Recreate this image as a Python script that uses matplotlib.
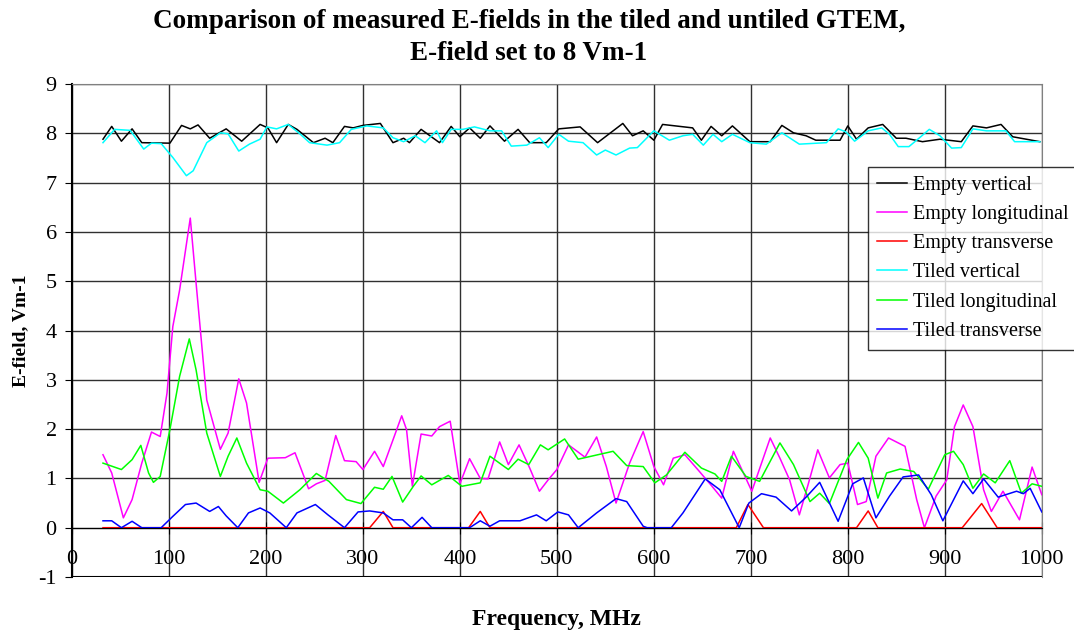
import numpy as np
import matplotlib
matplotlib.use('Agg')
import matplotlib.pyplot as plt

plt.rcParams['font.family'] = ['Liberation Serif', 'DejaVu Serif']
plt.rcParams['axes.unicode_minus'] = False

# ── Data (frequency MHz, E-field Vm-1) ────────────────────────────────────
empty_vertical = [
    (32, 7.88), (41, 8.14), (51, 7.84), (62, 8.09), (72, 7.81), (101, 7.80),
    (113, 8.16), (122, 8.09), (130, 8.17), (142, 7.90), (159, 8.09), (175, 7.84),
    (194, 8.18), (202, 8.11), (211, 7.81), (223, 8.18), (232, 8.08), (249, 7.81),
    (261, 7.90), (269, 7.81), (281, 8.14), (290, 8.11), (300, 8.16), (318, 8.20),
    (331, 7.81), (342, 7.90), (348, 7.81), (360, 8.08), (379, 7.81), (391, 8.14),
    (400, 7.93), (410, 8.11), (421, 7.90), (431, 8.15), (446, 7.84), (460, 8.08),
    (472, 7.81), (489, 7.81), (502, 8.09), (524, 8.13), (542, 7.81), (568, 8.20),
    (578, 7.95), (589, 8.05), (600, 7.86), (609, 8.18), (640, 8.11), (649, 7.86),
    (659, 8.14), (670, 7.95), (681, 8.15), (699, 7.83), (720, 7.83), (732, 8.16),
    (744, 8.01), (757, 7.95), (767, 7.86), (792, 7.86), (800, 8.15), (809, 7.88),
    (821, 8.11), (836, 8.18), (850, 7.90), (860, 7.90), (877, 7.83), (895, 7.88),
    (917, 7.83), (929, 8.15), (943, 8.11), (958, 8.18), (970, 7.93), (998, 7.83),
]
empty_longitudinal = [
    (32, 1.48), (41, 1.11), (53, 0.20), (62, 0.57), (72, 1.31), (82, 1.94),
    (91, 1.85), (98, 2.73), (104, 4.08), (111, 4.82), (122, 6.28), (128, 4.96),
    (139, 2.59), (153, 1.59), (161, 1.92), (172, 3.02), (180, 2.53), (193, 0.92),
    (202, 1.41), (220, 1.42), (230, 1.52), (244, 0.79), (252, 0.89), (261, 0.96),
    (272, 1.87), (281, 1.36), (293, 1.34), (300, 1.18), (312, 1.55), (321, 1.24),
    (331, 1.78), (340, 2.27), (345, 1.99), (351, 0.84), (360, 1.90), (371, 1.86),
    (379, 2.05), (390, 2.16), (400, 0.89), (410, 1.40), (421, 1.00), (429, 0.99),
    (441, 1.74), (450, 1.28), (461, 1.68), (472, 1.21), (482, 0.74), (491, 0.97),
    (500, 1.18), (512, 1.68), (529, 1.43), (541, 1.84), (551, 1.24), (561, 0.50),
    (575, 1.31), (589, 1.95), (600, 1.24), (610, 0.87), (620, 1.41), (632, 1.48),
    (647, 1.14), (660, 0.84), (670, 0.60), (682, 1.55), (690, 1.21), (701, 0.74),
    (720, 1.82), (730, 1.41), (740, 0.97), (750, 0.26), (759, 0.87), (769, 1.58),
    (781, 1.01), (792, 1.28), (800, 1.31), (810, 0.47), (819, 0.53), (829, 1.45),
    (842, 1.82), (859, 1.65), (871, 0.57), (879, 0.00), (891, 0.64), (902, 0.97),
    (910, 2.05), (919, 2.49), (929, 2.05), (940, 0.77), (948, 0.33), (960, 0.74),
    (977, 0.16), (990, 1.23), (1000, 0.67),
]
empty_transverse = [
    (32, 0.0), (307, 0.0), (321, 0.33), (331, 0.0), (409, 0.0), (421, 0.33),
    (431, 0.0), (685, 0.0), (697, 0.47), (713, 0.0), (809, 0.0), (821, 0.34),
    (831, 0.0), (918, 0.0), (938, 0.49), (954, 0.0), (1000, 0.0),
]
tiled_vertical = [
    (32, 7.81), (44, 8.08), (60, 8.06), (74, 7.68), (82, 7.80), (92, 7.79),
    (104, 7.51), (118, 7.14), (125, 7.24), (139, 7.81), (153, 8.01), (161, 7.99),
    (172, 7.64), (183, 7.78), (194, 7.88), (201, 8.13), (211, 8.09), (223, 8.18),
    (235, 7.99), (245, 7.81), (263, 7.76), (276, 7.81), (288, 8.08), (304, 8.15),
    (321, 8.11), (331, 7.91), (342, 7.83), (354, 7.95), (364, 7.81), (376, 8.05),
    (382, 7.81), (391, 8.08), (403, 8.08), (415, 8.13), (431, 8.05), (443, 8.05),
    (453, 7.74), (469, 7.76), (482, 7.91), (491, 7.71), (502, 7.98), (512, 7.84),
    (527, 7.81), (541, 7.56), (550, 7.66), (561, 7.56), (575, 7.70), (583, 7.71),
    (600, 8.05), (616, 7.86), (630, 7.95), (640, 7.98), (651, 7.76), (661, 7.98),
    (670, 7.83), (681, 7.98), (699, 7.81), (716, 7.78), (732, 8.01), (750, 7.78),
    (778, 7.81), (790, 8.09), (798, 8.03), (807, 7.84), (821, 8.05), (835, 8.11),
    (843, 7.98), (852, 7.73), (863, 7.73), (874, 7.91), (884, 8.08), (895, 7.95),
    (907, 7.70), (917, 7.71), (929, 8.09), (943, 8.05), (963, 8.05), (972, 7.83),
    (998, 7.83),
]
tiled_longitudinal = [
    (32, 1.31), (51, 1.18), (62, 1.38), (71, 1.67), (79, 1.11), (84, 0.92),
    (91, 1.04), (101, 1.99), (111, 3.07), (121, 3.83), (128, 3.20), (139, 1.92),
    (153, 1.04), (161, 1.45), (170, 1.82), (180, 1.31), (194, 0.77), (202, 0.74),
    (218, 0.50), (235, 0.77), (252, 1.10), (265, 0.94), (283, 0.57), (298, 0.49),
    (312, 0.82), (321, 0.78), (330, 1.04), (341, 0.52), (352, 0.84), (360, 1.05),
    (371, 0.87), (388, 1.06), (402, 0.84), (421, 0.91), (431, 1.45), (450, 1.18),
    (460, 1.39), (471, 1.28), (483, 1.68), (491, 1.58), (508, 1.80), (522, 1.39),
    (558, 1.55), (572, 1.26), (589, 1.24), (601, 0.91), (613, 1.07), (632, 1.53),
    (649, 1.21), (663, 1.09), (670, 0.94), (680, 1.45), (695, 1.04), (709, 0.94),
    (730, 1.72), (744, 1.28), (761, 0.53), (771, 0.70), (781, 0.49), (799, 1.38),
    (811, 1.73), (821, 1.41), (831, 0.60), (840, 1.11), (854, 1.19), (868, 1.14),
    (883, 0.78), (900, 1.48), (909, 1.55), (919, 1.28), (929, 0.80), (940, 1.09),
    (952, 0.91), (967, 1.36), (979, 0.70), (990, 0.89), (1000, 0.84),
]
tiled_transverse = [
    (32, 0.14), (41, 0.14), (51, 0.00), (62, 0.13), (72, 0.00), (92, 0.00),
    (104, 0.23), (117, 0.47), (128, 0.50), (142, 0.33), (151, 0.43), (159, 0.24),
    (171, 0.00), (182, 0.30), (194, 0.40), (204, 0.30), (221, 0.00), (232, 0.30),
    (251, 0.47), (264, 0.26), (281, 0.00), (295, 0.32), (307, 0.34), (321, 0.30),
    (331, 0.16), (341, 0.16), (350, 0.00), (361, 0.21), (371, 0.00), (410, 0.00),
    (421, 0.14), (431, 0.03), (441, 0.14), (462, 0.14), (479, 0.26), (489, 0.14),
    (501, 0.32), (512, 0.26), (522, 0.00), (541, 0.30), (561, 0.59), (572, 0.53),
    (589, 0.03), (593, 0.00), (618, 0.00), (630, 0.30), (653, 0.99), (668, 0.77),
    (688, 0.00), (698, 0.50), (711, 0.69), (726, 0.62), (742, 0.34), (757, 0.62),
    (771, 0.92), (790, 0.13), (805, 0.89), (816, 1.01), (829, 0.20), (843, 0.64),
    (857, 1.03), (873, 1.07), (886, 0.67), (898, 0.14), (919, 0.95), (929, 0.69),
    (940, 0.99), (955, 0.62), (974, 0.74), (981, 0.69), (988, 0.80), (1000, 0.32),
]

series = [
    ('Empty vertical', empty_vertical, '#000000'),
    ('Empty longitudinal', empty_longitudinal, '#FF00FF'),
    ('Empty transverse', empty_transverse, '#FF0000'),
    ('Tiled vertical', tiled_vertical, '#00FFFF'),
    ('Tiled longitudinal', tiled_longitudinal, '#00FF00'),
    ('Tiled transverse', tiled_transverse, '#0000FF'),
]

# ── Plot ───────────────────────────────────────────────────────────────────
fig = plt.figure(figsize=(10.74, 6.34), dpi=100)
ax = fig.add_axes([0.067, 0.0899, 0.903, 0.7776])

for name, pts, col in series:
    arr = np.array(pts)
    ax.plot(arr[:, 0], arr[:, 1], color=col, lw=1.1, label=name)

ax.set_xlim(0, 1000)
ax.set_ylim(-1, 9)
ax.set_xticks(np.arange(0, 1001, 100))
ax.set_yticks(np.arange(-1, 10, 1))
ax.grid(True, color='#303030', lw=1.0)
ax.set_axisbelow(True)

# Excel-style: category axis crosses at 0
ax.spines['bottom'].set_position(('data', 0))
ax.spines['top'].set_color('#808080')
ax.spines['right'].set_color('#808080')
ax.spines['left'].set_linewidth(1.5)
ax.axhline(-1, color='black', lw=1.5)
ax.tick_params(axis='x', direction='inout', length=8, pad=12, labelsize=16)
ax.tick_params(axis='y', direction='out', length=5, pad=6, labelsize=16)

ax.set_xlabel('Frequency, MHz', fontsize=17, fontweight='bold')
ax.xaxis.set_label_coords(0.5, -0.065)
ax.set_ylabel('E-field, Vm-1', fontsize=14, fontweight='bold')
ax.yaxis.set_label_coords(-0.044, 0.5)

fig.text(0.4925, 1 - 21 / 634, 'Comparison of measured E-fields in the tiled and untiled GTEM,',
         ha='center', va='center', fontsize=19.5, fontweight='bold')
fig.text(0.4925, 1 - 53 / 634, 'E-field set to 8 Vm-1',
         ha='center', va='center', fontsize=19.5, fontweight='bold')

leg = ax.legend(loc='upper left', bbox_to_anchor=(0.808, 0.737),
                bbox_transform=fig.transFigure, fontsize=14.5, frameon=True,
                fancybox=False, handlelength=1.5, handletextpad=0.3,
                labelspacing=0.5, borderaxespad=0, borderpad=0.45)
leg.get_frame().set_edgecolor('black')
leg.get_frame().set_linewidth(1.0)

plt.savefig('out.png', dpi=100)
